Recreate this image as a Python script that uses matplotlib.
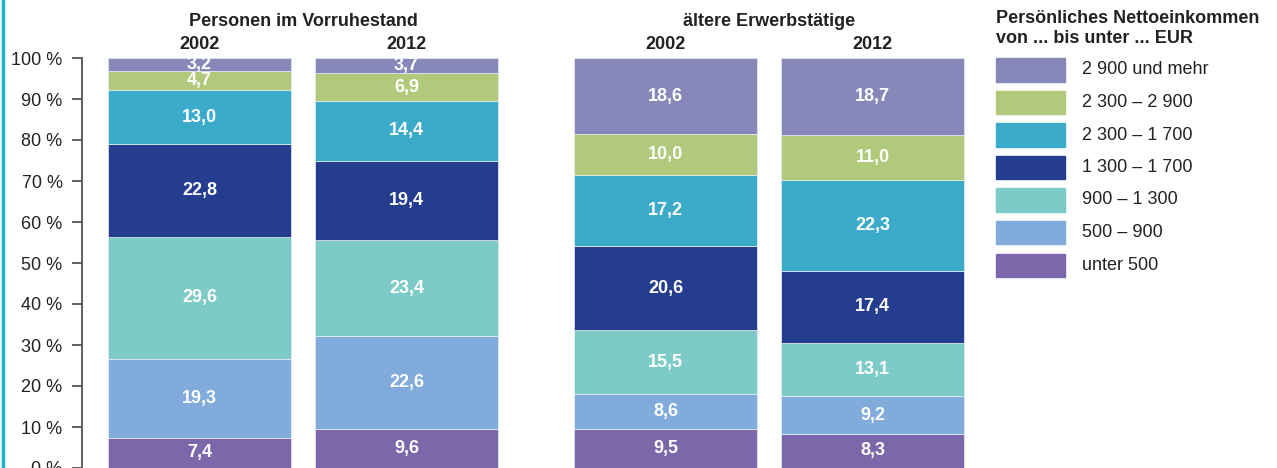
import matplotlib
matplotlib.use("Agg")
import matplotlib.pyplot as plt
from matplotlib.patches import Rectangle
from matplotlib.lines import Line2D

plt.rcParams['font.family'] = ['Liberation Sans', 'DejaVu Sans']

# income classes, bottom to top
klassen = ["unter 500", "500 – 900", "900 – 1 300", "1 300 – 1 700",
           "2 300 – 1 700", "2 300 – 2 900", "2 900 und mehr"]
farben = ["#7D67AB", "#80ABDB", "#7CCBC6", "#253D8E",
          "#3BABC9", "#B1C97A", "#8787B9"]

jahre = ["2002", "2012", "2002", "2012"]
gruppen = ["Personen im Vorruhestand", "ältere Erwerbstätige"]

# shares in %, one list per bar (bottom to top)
vorruhe_2002 = [7.4, 19.3, 29.6, 22.8, 13.0, 4.7, 3.2]
vorruhe_2012 = [9.6, 22.6, 23.4, 19.4, 14.4, 6.9, 3.7]
erwerb_2002 = [9.5, 8.6, 15.5, 20.6, 17.2, 10.0, 18.6]
erwerb_2012 = [8.3, 9.2, 13.1, 17.4, 22.3, 11.0, 18.7]
balken = [vorruhe_2002, vorruhe_2012, erwerb_2002, erwerb_2012]

W, H = 1277, 468
fig = plt.figure(figsize=(W / 100, H / 100), dpi=100)
fs = 13

def fx(px):
    return px / W

def fy(py):
    return 1 - py / H

ax = fig.add_axes([fx(82), 0, fx(980 - 82), fy(58)])

pos = [0, 1, 1 + 259 / 207, 2 + 259 / 207]
breite = 183 / 207

for x, werte in zip(pos, balken):
    unten = 0
    for wert, farbe in zip(werte, farben):
        ax.bar(x, wert, bottom=unten, width=breite, color=farbe,
               edgecolor="#E8EEF4", linewidth=0.5)
        ax.text(x, unten + wert / 2, f"{wert:.1f}".replace(".", ","),
                ha="center", va="center", color="white",
                fontsize=fs, fontweight="bold")
        unten += wert

ax.set_ylim(0, 100)
ax.set_xlim((82 - 199.5) / 207, (980 - 199.5) / 207)
ax.set_yticks(range(0, 101, 10))
ax.set_yticklabels([f"{t} %" for t in range(0, 101, 10)], fontsize=fs,
                   color="#222222")
ax.tick_params(axis="y", direction="out", length=7, width=1.3,
               color="#555555", pad=7)
ax.set_xticks([])
for s in ["top", "right", "bottom"]:
    ax.spines[s].set_visible(False)
ax.spines["left"].set_color("#555555")
ax.spines["left"].set_linewidth(1.3)

# year labels and group headers
for x, jahr in zip(pos, jahre):
    ax.text(x, 103.4, jahr, ha="center", va="center", fontsize=fs,
            fontweight="bold", color="#222222", clip_on=False)
ax.text((pos[0] + pos[1]) / 2, 108.8, gruppen[0], ha="center", va="center",
        fontsize=fs, fontweight="bold", color="#222222", clip_on=False)
ax.text((pos[2] + pos[3]) / 2, 108.8, gruppen[1], ha="center", va="center",
        fontsize=fs, fontweight="bold", color="#222222", clip_on=False)

# legend drawn by hand
fig.text(fx(996), fy(10), "Persönliches Nettoeinkommen\nvon ... bis unter ... EUR",
         ha="left", va="top", fontsize=fs, fontweight="bold",
         color="#222222", linespacing=1.2)
for i, (name, farbe) in enumerate(zip(klassen[::-1], farben[::-1])):
    yc = 70 + i * 32.5
    fig.add_artist(Rectangle((fx(996), fy(yc + 11.5)), fx(69), 23 / H,
                             transform=fig.transFigure, color=farbe))
    fig.text(fx(1082), fy(yc), name, ha="left", va="center",
             fontsize=fs, color="#222222")

# teal frame line at the left edge
fig.add_artist(Line2D([fx(3), fx(3)], [0, 1], transform=fig.transFigure,
                      color="#1FB5C8", linewidth=2.5))

fig.savefig("out.png", dpi=100)
